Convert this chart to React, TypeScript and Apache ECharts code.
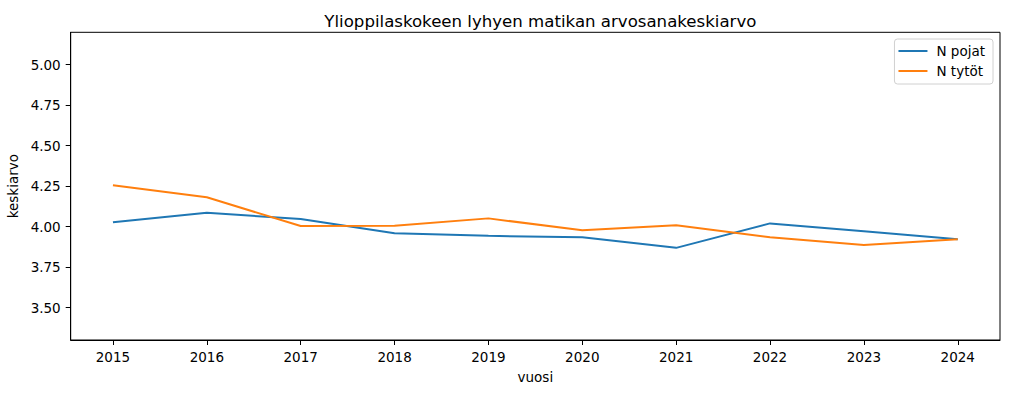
import React, { useEffect, useRef } from "react";
import * as echarts from "echarts";

const years = [2015, 2016, 2017, 2018, 2019, 2020, 2021, 2022, 2023, 2024];
const pojat = [4.027, 4.086, 4.047, 3.959, 3.943, 3.934, 3.869, 4.02, 3.971, 3.922];
const tytot = [4.256, 4.181, 4.004, 4.006, 4.051, 3.977, 4.008, 3.934, 3.887, 3.922];
const yTicks = [3.5, 3.75, 4.0, 4.25, 4.5, 4.75, 5.0];
const seriesNames = ["N pojat", "N tytöt"];
const titleText = "Ylioppilaskokeen lyhyen matikan arvosanakeskiarvo";
const xName = "vuosi";
const yName = "keskiarvo";

const FONT = "DejaVu Sans";

export default function App() {
  const ref = useRef<HTMLDivElement>(null);
  useEffect(() => {
    if (!ref.current) return;
    const chart = echarts.init(ref.current, null, { renderer: "svg" });
    const axisCommon = {
      axisLine: { show: true, lineStyle: { color: "#000", width: 1 } },
      axisTick: { show: true, inside: false, length: 5, lineStyle: { color: "#000", width: 1 } },
      splitLine: { show: false },
    };
    chart.setOption({
      animation: false,
      backgroundColor: "#fff",
      textStyle: { fontFamily: FONT },
      title: {
        text: titleText,
        left: 535.35,
        textAlign: "center",
        top: 8,
        textStyle: { fontFamily: FONT, fontSize: 16.6, fontWeight: "normal", color: "#000" },
      },
      grid: {
        left: 70.7,
        right: 9,
        top: 32.3,
        bottom: 53,
        containLabel: false,
        outerBoundsMode: "none",
        show: true,
        borderColor: "#000",
        borderWidth: 1,
        backgroundColor: "transparent",
      },
      legend: {
        orient: "vertical",
        right: 16,
        top: 39,
        data: seriesNames,
        icon: "rect",
        itemWidth: 29,
        itemHeight: 2,
        itemGap: 4,
        padding: [4, 8, 5, 4],
        borderColor: "#d0d0d0",
        borderWidth: 1,
        borderRadius: 3,
        backgroundColor: "rgba(255,255,255,0.8)",
        textStyle: { fontFamily: FONT, fontSize: 13.5, color: "#000", lineHeight: 16, padding: [0, 0, 0, 4] },
      },
      xAxis: {
        type: "value",
        min: 2014.55,
        max: 2024.45,
        name: xName,
        nameLocation: "middle",
        nameGap: 30,
        nameTextStyle: { fontFamily: FONT, fontSize: 13.5, color: "#000" },
        ...axisCommon,
        axisTick: { ...axisCommon.axisTick, customValues: years },
        axisLabel: {
          customValues: years,
          margin: 10,
          fontFamily: FONT,
          fontSize: 13.5,
          color: "#000",
          formatter: (v: number) => String(Math.round(v)),
        },
      },
      yAxis: {
        type: "value",
        min: 3.3,
        max: 5.2,
        name: yName,
        nameLocation: "middle",
        nameGap: 48,
        nameTextStyle: { fontFamily: FONT, fontSize: 13.5, color: "#000" },
        ...axisCommon,
        axisTick: { ...axisCommon.axisTick, customValues: yTicks },
        axisLabel: {
          customValues: yTicks,
          margin: 10,
          fontFamily: FONT,
          fontSize: 13.5,
          color: "#000",
          formatter: (v: number) => v.toFixed(2),
        },
      },
      series: [
        {
          name: seriesNames[0],
          type: "line",
          data: years.map((y, i) => [y, pojat[i]]),
          symbol: "none",
          lineStyle: { width: 2, color: "#1f77b4" },
          itemStyle: { color: "#1f77b4" },
        },
        {
          name: seriesNames[1],
          type: "line",
          data: years.map((y, i) => [y, tytot[i]]),
          symbol: "none",
          lineStyle: { width: 2, color: "#ff7f0e" },
          itemStyle: { color: "#ff7f0e" },
        },
      ],
    });
    return () => chart.dispose();
  }, []);
  return (
    <div
      ref={ref}
      style={{ position: "fixed", left: 0, top: 0, width: 1009, height: 393, background: "#fff" }}
    />
  );
}
